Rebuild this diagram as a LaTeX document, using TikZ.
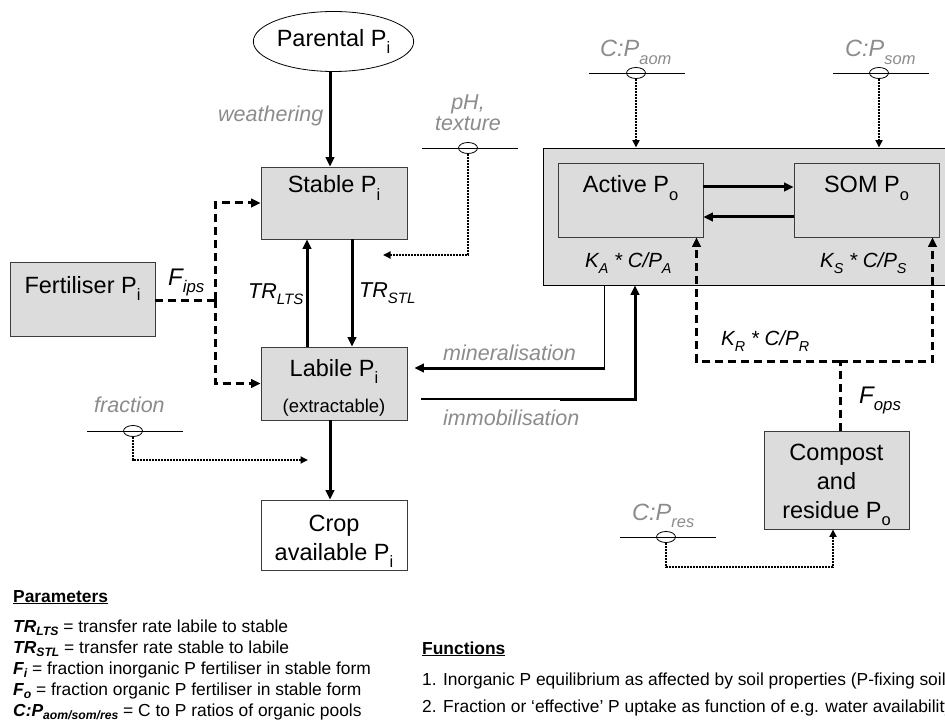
\documentclass[tikz,border=0pt]{standalone}
\usepackage{fontspec}
\setmainfont{Liberation Sans}
\usetikzlibrary{arrows.meta,shapes.geometric}
\definecolor{poolfill}{HTML}{DCDCDC}
\definecolor{poolline}{HTML}{3C3C3C}
\definecolor{lblgray}{HTML}{8C8C8C}
\newcommand{\myfs}[1]{\fontsize{#1}{#1}\selectfont}
\newcommand{\sbs}[1]{\raisebox{-0.3em}{\scalebox{0.7}{#1}}}
\newcommand{\sbsl}[1]{\raisebox{-0.2em}{\scalebox{0.7}{#1}}}
\begin{document}
\begin{tikzpicture}[x=1pt, y=-1pt,
  pool/.style={rectangle, draw=poolline, line width=0.9pt, fill=poolfill, inner sep=0pt},
  boxtxt/.style={font=\myfs{23.5}, inner sep=0pt, anchor=base},
  lbl/.style={font=\myfs{21.5}\itshape, text=lblgray, inner sep=0pt, anchor=base west},
  cplbl/.style={font=\myfs{23.5}\itshape, text=lblgray, inner sep=0pt, anchor=base west},
  trlbl/.style={font=\myfs{21.5}\itshape, inner sep=0pt, anchor=base west},
  flbl/.style={font=\myfs{24}\itshape, inner sep=0pt, anchor=base west},
  klbl/.style={font=\myfs{20.5}\itshape, inner sep=0pt, anchor=base west},
  bot/.style={font=\myfs{17.4}, inner sep=0pt, anchor=base west},
  mk/.style={ellipse, draw, line width=0.8pt, minimum width=19pt, minimum height=11pt, inner sep=0pt},
  arrowend/.style={-{Triangle[length=9.5pt,width=8.5pt]}},
  flow/.style={line width=3pt, arrowend},
  dflow/.style={line width=3pt, dash pattern=on 8pt off 5pt},
  dotf/.style={line width=1.7pt, dash pattern=on 1pt off 0.5pt, -{Triangle[length=7.5pt,width=7pt]}},
  thinl/.style={line width=0.8pt}]

\fill[white] (0,0) rectangle (945,722);
\useasboundingbox (0,0) rectangle (945,722);

% ---------- pools ----------
\node[ellipse, draw, line width=0.8pt, minimum width=145pt, minimum height=60pt, inner sep=0pt, font=\myfs{23.5}] (parental) at (333.5,41.5) {Parental P\sbs{i}};

\node[pool, minimum width=146pt, minimum height=72pt] (stable) at (334,203) {};
\node[boxtxt] (stableT) at (334,193) {Stable P\sbs{i}};

\node[pool, minimum width=145pt, minimum height=74pt] (fert) at (82.5,299) {};
\node[boxtxt] (fertT) at (82.5,293) {Fertiliser P\sbs{i}};

\node[pool, minimum width=146pt, minimum height=73pt] (labile) at (334,383.5) {};
\node[boxtxt] (labileT) at (334,376) {Labile P\sbs{i}};
\node[boxtxt, font=\myfs{18.5}] (labileT2) at (334,412) {(extractable)};

\node[pool, fill=white, minimum width=146pt, minimum height=70pt] (crop) at (334,535) {};
\node[boxtxt] (cropT1) at (334,531) {Crop};
\node[boxtxt] (cropT2) at (334,560) {available P\sbs{i}};

\node[pool, draw=black, minimum width=403pt, minimum height=137pt] (big) at (744.5,216.5) {};
\node[pool, minimum width=145pt, minimum height=74pt] (active) at (630.5,200) {};
\node[boxtxt] (activeT) at (630.5,193) {Active P\sbs{o}};
\node[pool, minimum width=145pt, minimum height=74pt] (som) at (866.5,200) {};
\node[boxtxt] (somT) at (866.5,193) {SOM P\sbs{o}};

\node[pool, minimum width=145pt, minimum height=98pt] (compost) at (836.5,480) {};
\node[boxtxt] (compT1) at (836.5,460) {Compost};
\node[boxtxt] (compT2) at (836.5,489) {and};
\node[boxtxt] (compT3) at (836.5,518) {residue P\sbs{o}};

% ---------- solid flows ----------
\draw[flow] ([xshift=-4pt]stable.north |- parental.south) -- ([xshift=-4pt]stable.north);
\draw[flow] ([xshift=-27pt]labile.north) -- ([xshift=-27pt]stable.south);
\draw[flow] ([xshift=18pt]stable.south) -- ([xshift=18pt]labile.north);
\draw[flow] ([xshift=-4pt]labile.south) -- ([xshift=-4pt]crop.north);
\draw[flow] ([yshift=13pt]active.east) -- ([yshift=13pt]som.west);
\draw[flow] ([yshift=-17pt]som.west) -- ([yshift=-17pt]active.east);

% mineralisation
\coordinate (mnC) at (604,368);
\draw[thinl] (mnC |- big.south) -- (mnC);
\draw[flow, shorten >=7pt] ([xshift=1.4pt]mnC) -- (mnC -| labile.east);
% immobilisation
\coordinate (imS) at (421,399);
\coordinate (imM) at (560,399);
\coordinate (imC) at (635,399);
\draw[line width=1.2pt] (imS) -- (imM);
\draw[flow] (imM) -- (imC) -- (imC |- big.south);

% ---------- dashed flows ----------
\coordinate (fj) at (215,300);
\draw[dflow] (fert.east |- fj) -- (fj);
\draw[dflow, arrowend] (fj) |- (stable.west);
\draw[dflow, arrowend] (fj) |- (labile.west);

\coordinate (krJ) at (840,361);
\draw[dflow] ([xshift=3.5pt]compost.north) -- (krJ);
\draw[dflow, arrowend] (krJ) -| ([xshift=66pt]active.south);
\draw[dflow, arrowend] (krJ) -| ([xshift=66pt]som.south);

% ---------- controls (dotted) ----------
\node[mk] (phE) at (468,148) {};
\draw[thinl] ([xshift=-46pt]phE.center) -- ([xshift=50pt]phE.center);
\coordinate (phT) at (383,255);
\draw[dotf] (phE.south) |- (phT);

\node[mk] (frE) at (133,431) {};
\draw[thinl] ([xshift=-46pt]frE.center) -- ([xshift=50pt]frE.center);
\coordinate (frT) at (308,460);
\draw[dotf] (frE.south) |- (frT);

\node[mk] (aomE) at (636,73) {};
\draw[thinl] ([xshift=-47pt]aomE.center) -- ([xshift=49pt]aomE.center);
\draw[dotf] (aomE.south) -- (aomE.south |- big.north);

\node[mk] (somE) at (879,73) {};
\draw[thinl] ([xshift=-46pt]somE.center) -- ([xshift=50pt]somE.center);
\draw[dotf] (somE.south) -- (somE.south |- big.north);

\node[mk] (resE) at (666,537) {};
\draw[thinl] ([xshift=-46pt]resE.center) -- ([xshift=50pt]resE.center);
\coordinate (resC) at (833,567);
\draw[dotf] (resE.south) |- (resC) -- (resC |- compost.south);

% ---------- labels ----------
\node[lbl] (weath) at (218,122) {weathering};
\node[lbl, anchor=base] (ph1) at (468,110) {pH,};
\node[lbl, anchor=base] (ph2) at (468,131) {texture};
\node[lbl] (frac) at (94,412) {fraction};
\node[lbl] (miner) at (443,360) {mineralisation};
\node[lbl] (immob) at (443,425) {immobilisation};

\node[trlbl] (trlts) at (248,298) {TR\sbs{LTS}};
\node[trlbl] (trstl) at (359,297) {TR\sbs{STL}};
\node[flbl] (fips) at (168,285) {F\sbs{ips}};
\node[flbl] (fops) at (859,403) {F\sbs{ops}};

\node[klbl] (ka) at (585,267) {K\sbs{A} * C/P\sbs{A}};
\node[klbl] (ks) at (820,267) {K\sbs{S} * C/P\sbs{S}};
\node[klbl] (kr) at (721,345) {K\sbs{R} * C/P\sbs{R}};

\node[cplbl] (cpaom) at (600,57) {C:P\sbs{aom}};
\node[cplbl] (cpsom) at (845,57) {C:P\sbs{som}};
\node[cplbl] (cpres) at (632,520) {C:P\sbs{res}};

% ---------- legend texts ----------
\node[bot] (p0) at (13,602) {\bfseries\underline{Parameters}};
\node[bot] (p1) at (13,632) {\textbf{\textit{TR\sbsl{LTS}}} = transfer rate labile to stable};
\node[bot] (p2) at (13,653) {\textbf{\textit{TR\sbsl{STL}}} = transfer rate stable to labile};
\node[bot] (p3) at (13,674) {\textbf{\textit{F\sbsl{i}}} = fraction inorganic P fertiliser in stable form};
\node[bot] (p4) at (13,695) {\textbf{\textit{F\sbsl{o}}} = fraction organic P fertiliser in stable form};
\node[bot] (p5) at (13,716) {\textbf{\textit{C:P\sbsl{aom/som/res}}} = C to P ratios of organic pools};

\node[bot] (f0) at (422,654) {\bfseries\underline{Functions}};
\node[bot] (f1) at (422,685) {1. Inorganic P equilibrium as affected by soil properties (P-fixing soil};
\node[bot] (f2) at (422,712) {2. Fraction or ‘effective’ P uptake as function of e.g. water availability};

\end{tikzpicture}
\end{document}
